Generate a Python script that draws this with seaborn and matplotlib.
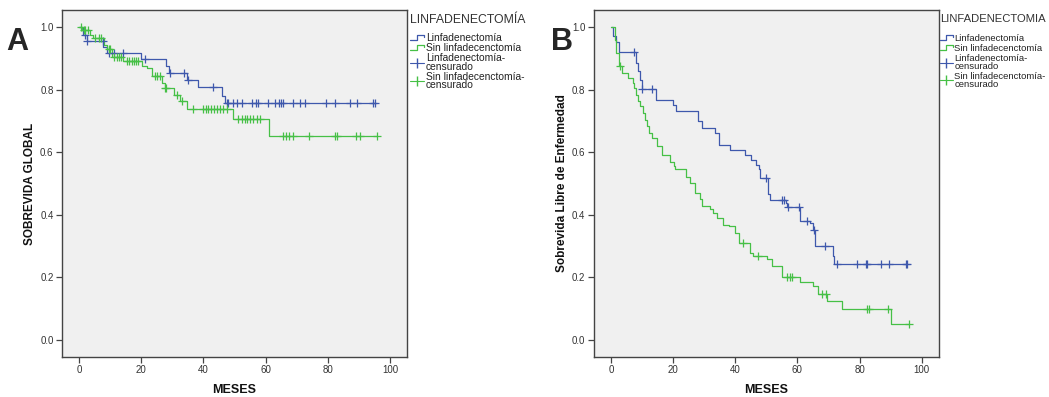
import numpy as np
import matplotlib
matplotlib.use("Agg")
import matplotlib.pyplot as plt
import seaborn as sns
from matplotlib.lines import Line2D
from matplotlib.legend_handler import HandlerBase

# ---------------- data ----------------
# Panel A: overall survival (SOBREVIDA GLOBAL)
a_lin_t = [0, 1.2, 2.5, 7.7, 8.9, 20, 28, 29, 34.6, 38.3, 45.9, 47]
a_lin_s = [1.0, 0.974, 0.954, 0.937, 0.916, 0.897, 0.874, 0.852, 0.831, 0.807, 0.778, 0.757]
a_lin_c = [1.9, 2.5, 7.6, 9.8, 11.4, 14.3, 21.2, 29.3, 33.8, 34.9, 43.2, 47.5, 48.0, 49.6,
           50.7, 52.3, 55.5, 56.9, 57.5, 60.9, 63.2, 64.3, 65.1, 65.7, 68.9, 71.1, 72.7,
           79.3, 82.3, 87.1, 89.3, 94.6, 95.2]

a_sin_t = [0, 1.0, 3.5, 4.5, 8, 9, 10.5, 14.3, 20.4, 22, 23.5, 26.7, 27.6, 30.6, 32.4,
           34.8, 49.6, 61.2]
a_sin_s = [1.0, 0.99, 0.975, 0.965, 0.943, 0.93, 0.905, 0.89, 0.874, 0.868, 0.842, 0.82,
           0.804, 0.783, 0.762, 0.739, 0.706, 0.652]
a_sin_c = [0.5, 1.5, 2.0, 3.0, 5.0, 6.5, 7.0, 9.5, 10.0, 11.4, 12.2, 13.0, 13.6, 15.4, 16.1,
           16.9, 17.6, 18.4, 19.1, 24.6, 25.1, 26.2, 27.6, 28.0, 31.6, 33.2, 36.8, 40.0,
           40.7, 41.6, 42.4, 43.4, 44.3, 45.3, 46.4, 47.5, 51.2, 52.3, 53.4, 54.1, 55.0,
           56.1, 57.1, 58.2, 65.5, 66.6, 67.6, 68.9, 74.1, 82.3, 83.1, 89.1, 90.4, 95.7]

# Panel B: disease-free survival
b_lin_t = [0, 0.8, 1.8, 2.7, 8.0, 8.8, 9.3, 9.9, 14.4, 20.0, 21.1, 28.0, 29.2, 33.4, 34.8,
           38.3, 43.1, 45.2, 46.8, 47.7, 48.0, 50.6, 51.2, 56.3, 56.8, 60.8, 64.0, 65.0,
           65.6, 71.3, 71.7]
b_lin_s = [1.0, 0.97, 0.953, 0.921, 0.884, 0.858, 0.831, 0.803, 0.768, 0.752, 0.730, 0.70,
           0.677, 0.661, 0.624, 0.608, 0.592, 0.576, 0.56, 0.545, 0.518, 0.465, 0.447,
           0.438, 0.426, 0.38, 0.373, 0.353, 0.30, 0.268, 0.242]
b_lin_c = [7.5, 9.9, 13.4, 49.8, 55.2, 55.6, 57.1, 60.6, 63.1, 65.3, 69.0, 72.6, 79.2, 82.0,
           82.4, 87.0, 89.4, 94.9, 95.3]

b_sin_t = [0, 1.3, 1.8, 2.7, 3.5, 5.6, 7.0, 7.5, 8.0, 8.6, 9.5, 10.3, 11.1, 11.6, 12.4,
           13.1, 14.7, 16.3, 19.0, 20.3, 20.6, 24.3, 25.5, 27.1, 28.7, 29.3, 32.0, 33.0,
           34.0, 36.2, 37.9, 40.0, 41.2, 44.6, 45.8, 50.1, 51.7, 54.9, 60.8, 65.0, 66.7,
           69.4, 74.5, 90.2]
b_sin_s = [1.0, 0.959, 0.916, 0.874, 0.852, 0.836, 0.82, 0.804, 0.783, 0.762, 0.746, 0.725,
           0.704, 0.682, 0.661, 0.645, 0.619, 0.592, 0.570, 0.555, 0.545, 0.52, 0.502, 0.47,
           0.45, 0.428, 0.417, 0.405, 0.391, 0.369, 0.364, 0.343, 0.311, 0.279, 0.268,
           0.258, 0.236, 0.20, 0.184, 0.173, 0.146, 0.125, 0.10, 0.05]
b_sin_c = [3.1, 42.5, 47.4, 56.7, 57.6, 58.4, 68.0, 69.1, 82.5, 82.9, 89.2, 95.9]

x_ticks = [0, 20, 40, 60, 80, 100]
y_ticks = [0.0, 0.2, 0.4, 0.6, 0.8, 1.0]
legend_labels = ["Linfadenectomía", "Sin linfadecenctomía",
                 "Linfadenectomía-\ncensurado", "Sin linfadecenctomía-\ncensurado"]

BLUE = "#3E58AC"
GREEN = "#46C046"
FRAME = "#444444"

# ---------------- style ----------------
sns.set_theme(style="ticks")
plt.rcParams["font.family"] = ["Liberation Sans", "DejaVu Sans"]
plt.rcParams["axes.facecolor"] = "#F0F0F0"
plt.rcParams["axes.edgecolor"] = FRAME
plt.rcParams["axes.linewidth"] = 1.0

fig = plt.figure(figsize=(10.49, 3.97), dpi=100)
ax_a = fig.add_axes([0.059, 0.1008, 0.329, 0.874])
ax_b = fig.add_axes([0.566, 0.1008, 0.329, 0.874])


class StepHandler(HandlerBase):
    def create_artists(self, legend, orig_handle, xdescent, ydescent, width, height,
                       fontsize, trans):
        xs = np.array([0, 0.45, 0.45, 1.0, 1.0]) * width - xdescent
        ys = np.array([0.15, 0.15, 0.85, 0.85, 0.55]) * height - ydescent
        ln = Line2D(xs, ys, color=orig_handle.get_color(), lw=0.9)
        ln.set_transform(trans)
        return [ln]


def draw_curve(ax, t, s, c, color):
    t = np.asarray(t, float)
    s = np.asarray(s, float)
    c = np.asarray(c, float)
    end = max(c.max(), t.max())
    xs = np.append(t, end)
    ys = np.append(s, s[-1])
    sns.lineplot(x=xs, y=ys, drawstyle="steps-post", color=color, lw=0.9,
                 ax=ax, sort=False, estimator=None)
    idx = np.searchsorted(t, c, side="right") - 1
    cy = s[idx]
    sns.scatterplot(x=c, y=cy, marker="+", s=30, color=color, linewidth=0.9,
                    ax=ax, zorder=3)


def setup(ax, ylabel, title, lfs, tfs, lsp, sep, anchor_x):
    ax.set_xlim(-5.5, 105.5)
    ax.set_ylim(-0.054, 1.054)
    ax.set_xticks(x_ticks)
    ax.set_xticklabels([str(v) for v in x_ticks])
    ax.set_yticks(y_ticks)
    ax.set_yticklabels([f"{v:.1f}" for v in y_ticks])
    ax.tick_params(axis="both", direction="out", length=4, width=0.9, color=FRAME,
                   labelsize=7, labelcolor="#333333", pad=2)
    for sp in ax.spines.values():
        sp.set_visible(True)
        sp.set_color(FRAME)
        sp.set_linewidth(1.0)
    ax.set_xlabel("MESES", fontsize=9, fontweight="bold", color="#111111", labelpad=6)
    ax.set_ylabel(ylabel, fontsize=8.5, fontweight="bold", color="#111111", labelpad=3)
    handles = [Line2D([0], [0], color=BLUE), Line2D([0], [0], color=GREEN),
               Line2D([0], [0], color=BLUE, marker="|", markersize=7, lw=0.8),
               Line2D([0], [0], color=GREEN, marker="|", markersize=7, lw=0.8)]
    leg = ax.legend(handles, legend_labels, title=title, loc="upper left",
                    bbox_to_anchor=(anchor_x, 0.995), frameon=False, fontsize=lfs,
                    title_fontsize=tfs, handlelength=1.4, handletextpad=0.15,
                    labelspacing=lsp, borderpad=0.2, borderaxespad=0.0,
                    handler_map={handles[0]: StepHandler(), handles[1]: StepHandler()})
    leg._legend_box.align = "left"
    leg._legend_box.sep = sep
    leg.get_title().set_color("#333333")
    for tx in leg.get_texts():
        tx.set_linespacing(0.85)
        tx.set_color("#222222")


draw_curve(ax_a, a_lin_t, a_lin_s, a_lin_c, BLUE)
draw_curve(ax_a, a_sin_t, a_sin_s, a_sin_c, GREEN)
setup(ax_a, "SOBREVIDA GLOBAL", "LINFADENECTOMÍA", 7.4, 8.8, 0.0, 5, 1.003)

draw_curve(ax_b, b_lin_t, b_lin_s, b_lin_c, BLUE)
draw_curve(ax_b, b_sin_t, b_sin_s, b_sin_c, GREEN)
setup(ax_b, "Sobrevida Libre de Enfermedad", "LINFADENECTOMIA", 6.8, 8.1, 0.1, 7.5, 0.997)

fig.text(0.016, 0.895, "A", fontsize=22, fontweight="bold", ha="center", va="center")
fig.text(0.536, 0.895, "B", fontsize=22, fontweight="bold", ha="center", va="center")

fig.savefig("out.png", dpi=100, facecolor="white")
